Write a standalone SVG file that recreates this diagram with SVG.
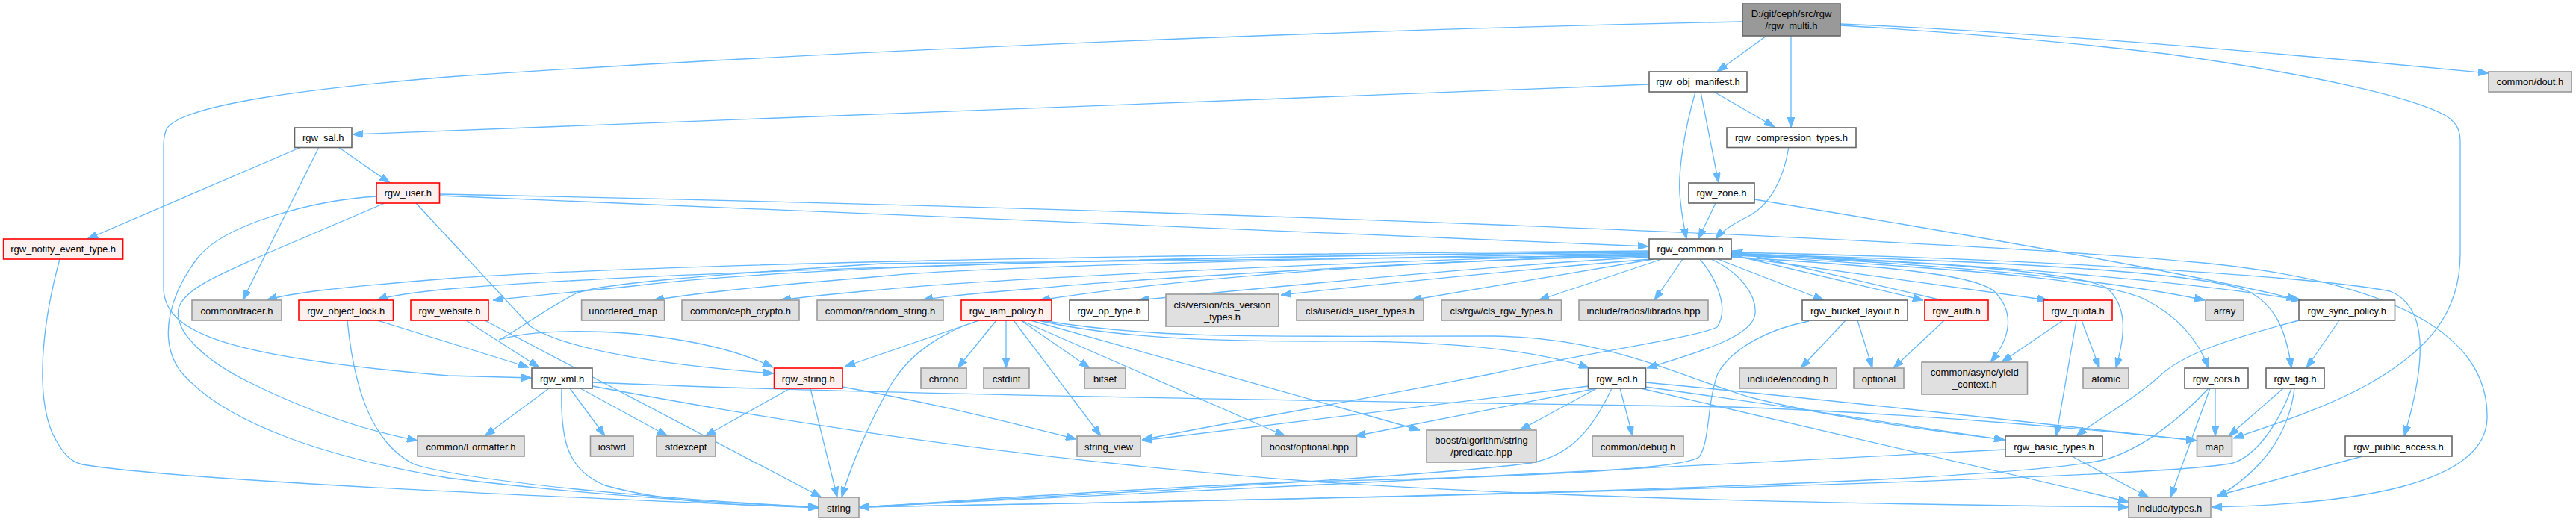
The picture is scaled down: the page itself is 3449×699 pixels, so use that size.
<svg xmlns="http://www.w3.org/2000/svg" width="3449" height="699" viewBox="0 0 3449 699">
<style>
.e{fill:none;stroke:#63b8ff;stroke-width:1.3;marker-end:url(#a)}
.root{fill:#999999;stroke:#666666;stroke-width:1.6}
.n{fill:#ffffff;stroke:#666666;stroke-width:1.6}
.r{fill:#fff0f0;stroke:#ff0000;stroke-width:1.6}
.g{fill:#e0e0e0;stroke:#999999;stroke-width:1.6}
text{font-family:"Liberation Sans",Arial,Helvetica,sans-serif;font-size:13px;fill:#000;text-anchor:middle}
</style>
<defs>
<marker id="a" viewBox="0 0 14 10" refX="14" refY="5" markerWidth="14" markerHeight="10" markerUnits="userSpaceOnUse" orient="auto">
<path d="M0,0 L14,5 L0,10 z" fill="#63b8ff" stroke="#63b8ff" stroke-width="1"/>
</marker>
</defs>
<rect x="0" y="0" width="3449" height="699" fill="#ffffff"/>
<g id="edges">
<path class="e" d="M2333,29 C1700,42 1000,75 600,103 C420,118 235,140 222,175 C219,185 219,190 219,200 L219,385 C219,445 300,478 600,503 L712,506"/>
<path class="e" d="M2365,48 L2299,96"/>
<path class="e" d="M2398,48 L2398,171"/>
<path class="e" d="M2464,32 C2700,42 3000,66 3332,98"/>
<path class="e" d="M2464,34 C2650,45 2800,60 2900,72 C3100,100 3230,130 3275,155 C3290,165 3294,175 3294,190 L3294,340 C3294,420 3250,470 3170,515 C3110,548 3040,570 2990,587"/>
<path class="e" d="M2208,113 L472,180"/>
<path class="e" d="M2295,123 L2376,170"/>
<path class="e" d="M2277,123 L2301,245"/>
<path class="e" d="M2270,123 C2255,175 2245,235 2250,270 C2252,290 2255,305 2258,320"/>
<path class="e" d="M2395,197 C2388,240 2370,275 2340,290 C2320,300 2305,310 2297,320"/>
<path class="e" d="M2297,272 L2274,320"/>
<path class="e" d="M2349,267 C2700,325 2950,370 3076,401"/>
<path class="e" d="M453,197 L522,245"/>
<path class="e" d="M403,197 L117,320"/>
<path class="e" d="M427,197 L325,402"/>
<path class="e" d="M589,262 L2207,330"/>
<path class="e" d="M589,260 C1600,280 2600,320 2950,352 C3250,382 3332,470 3330,560 C3328,650 3150,675 2961,679"/>
<path class="e" d="M504,263 C420,268 300,300 265,345 C230,390 210,450 240,495 C300,570 450,615 600,640 C800,665 1000,675 1096,679"/>
<path class="e" d="M515,272 L356,340 C300,365 250,385 240,410 C230,440 270,480 330,510 C400,545 480,575 559,590"/>
<path class="e" d="M557,272 L710,437 C760,470 900,490 1036,500"/>
<path class="e" d="M80,347 C60,420 45,520 70,580 C85,610 95,618 110,622 C250,645 800,668 1096,680"/>
<path class="e" d="M465,429 C472,500 490,590 555,622 C650,650 950,672 1096,679"/>
<path class="e" d="M505,429 L708,492"/>
<path class="e" d="M624,429 L722,492"/>
<path class="e" d="M649,429 L1100,666"/>
<path class="e" d="M735,520 L649,584"/>
<path class="e" d="M763,520 L810,584"/>
<path class="e" d="M777,520 L894,584"/>
<path class="e" d="M752,520 C750,590 760,630 810,650 C900,675 1000,677 1096,679"/>
<path class="e" d="M793,512 C1200,530 2000,540 2320,545 C2600,555 2850,580 2941,590"/>
<path class="e" d="M793,517 C1000,555 1300,610 1760,645 C2100,668 2500,675 2850,679"/>
<path class="e" d="M1085,520 L1121,666"/>
<path class="e" d="M1058,520 L944,584"/>
<path class="e" d="M1128,518 C1250,540 1350,565 1441,588"/>
<path class="e" d="M1311,429 L1131,491"/>
<path class="e" d="M1311,429 C1260,445 1215,475 1190,520 C1165,565 1140,620 1127,666"/>
<path class="e" d="M1334,429 L1282,493"/>
<path class="e" d="M1347,429 L1347,493"/>
<path class="e" d="M1367,429 L1459,493"/>
<path class="e" d="M1357,429 L1474,584"/>
<path class="e" d="M1367,429 L1721,584"/>
<path class="e" d="M1380,429 L1901,576"/>
<path class="e" d="M1390,429 C1480,450 1600,457 1760,457 C1950,455 2060,470 2128,493"/>
<path class="e" d="M1395,429 C1550,455 1700,450 2000,450 C2150,452 2240,500 2340,531 C2450,560 2600,578 2684,589"/>
<path class="e" d="M2127,517 L1529,590"/>
<path class="e" d="M2276,347 C2300,375 2315,415 2299,438 C2270,452 2150,468 2000,500 C1800,540 1620,570 1529,589"/>
<path class="e" d="M2138,520 L1814,584"/>
<path class="e" d="M2138,520 L2035,576"/>
<path class="e" d="M2169,520 L2186,584"/>
<path class="e" d="M2158,520 C2130,580 2100,610 2050,620 C1900,640 1400,665 1150,679"/>
<path class="e" d="M2203,518 C2400,545 2550,570 2684,589"/>
<path class="e" d="M2197,520 L2850,672"/>
<path class="e" d="M2203,512 C2500,540 2800,575 2941,590"/>
<path class="e" d="M2291,347 C2330,365 2352,395 2350,420 C2347,450 2280,470 2205,493"/>
<path class="e" d="M2471,429 L2411,493"/>
<path class="e" d="M2487,429 L2507,493"/>
<path class="e" d="M2422,430 C2370,440 2320,465 2300,500 C2285,540 2290,590 2275,612 C2250,630 2000,640 1740,645 C1500,655 1300,670 1150,679"/>
<path class="e" d="M2603,429 L2535,493"/>
<path class="e" d="M2762,429 L2680,485"/>
<path class="e" d="M2787,429 L2811,493"/>
<path class="e" d="M2780,429 L2753,584"/>
<path class="e" d="M3078,429 C2980,455 2920,475 2890,505 C2850,540 2810,560 2780,584"/>
<path class="e" d="M3132,429 L3088,493"/>
<path class="e" d="M2685,602 C2400,615 1600,660 1150,679"/>
<path class="e" d="M2774,611 L2877,666"/>
<path class="e" d="M2966,520 L2966,584"/>
<path class="e" d="M2959,520 L2906,666"/>
<path class="e" d="M2957,520 C2920,560 2870,600 2820,615 C2700,645 2000,665 1150,679"/>
<path class="e" d="M3057,520 L2984,584"/>
<path class="e" d="M3072,520 C3065,580 3030,630 2968,666"/>
<path class="e" d="M3068,520 C3050,570 3020,610 2990,620 C2900,640 2000,665 1150,679"/>
<path class="e" d="M3163,611 L2968,664"/>
<path class="e" d="M2208,336 C1600,340 900,352 600,373 C450,385 390,392 357,402"/>
<path class="e" d="M2208,337 C1600,343 900,362 600,387 C550,392 520,396 505,402"/>
<path class="e" d="M2208,338 C1700,342 1100,352 848,383 C750,393 700,397 660,402"/>
<path class="e" d="M2208,339 C1800,345 1300,357 1180,370 C1000,385 930,393 875,402"/>
<path class="e" d="M2208,340 C1800,350 1300,375 1180,388 C1120,393 1080,397 1045,402"/>
<path class="e" d="M2208,341 C1900,350 1500,375 1390,386 C1300,393 1260,397 1235,402"/>
<path class="e" d="M2208,342 C1600,346 1250,350 1180,353 C950,368 800,380 771,393 C720,420 685,448 668,455 C700,445 760,440 850,447 C950,458 1000,475 1035,492"/>
<path class="e" d="M2208,343 C1900,348 1600,370 1392,402"/>
<path class="e" d="M2208,344 C2000,355 1700,385 1524,402"/>
<path class="e" d="M2210,347 C2050,360 1850,380 1715,395"/>
<path class="e" d="M2214,347 L1889,402"/>
<path class="e" d="M2225,347 L2060,402"/>
<path class="e" d="M2253,347 L2215,402"/>
<path class="e" d="M2300,347 L2442,402"/>
<path class="e" d="M2318,341 L2575,402"/>
<path class="e" d="M2600,402 L2319,336"/>
<path class="e" d="M2318,344 C2500,355 2640,365 2670,390 C2700,420 2690,455 2665,485"/>
<path class="e" d="M2318,343 L2742,402"/>
<path class="e" d="M2318,342 C2600,350 2780,365 2820,385 C2850,410 2845,450 2833,493"/>
<path class="e" d="M2318,340 C2600,355 2800,370 2952,402"/>
<path class="e" d="M2318,339 C2700,355 2950,380 3081,402"/>
<path class="e" d="M2318,341 C2600,360 2800,370 2870,400 C2920,425 2945,460 2957,493"/>
<path class="e" d="M2318,340 C2700,350 2950,365 3010,390 C3050,410 3062,450 3068,493"/>
<path class="e" d="M2318,338 C2700,345 3100,370 3200,390 C3250,410 3250,480 3219,584"/>
</g>
<g id="n_rgw_multi"><rect class="root" x="2333" y="5" width="131" height="43"/><text x="2398.5" y="23">D:/git/ceph/src/rgw</text><text x="2398.5" y="39">/rgw_multi.h</text></g>
<g id="n_rgw_obj_manifest"><rect class="n" x="2208" y="96" width="131" height="27"/><text x="2273.5" y="114">rgw_obj_manifest.h</text></g>
<g id="n_common_dout"><rect class="g" x="3332" y="96" width="111" height="27"/><text x="3387.5" y="114">common/dout.h</text></g>
<g id="n_rgw_sal"><rect class="n" x="394.5" y="171" width="76.5" height="26.5"/><text x="432.75" y="188.5">rgw_sal.h</text></g>
<g id="n_rgw_compression_types"><rect class="n" x="2312" y="171" width="173" height="26.5"/><text x="2398.5" y="188.5">rgw_compression_types.h</text></g>
<g id="n_rgw_user"><rect class="r" x="504" y="245" width="84.5" height="27"/><text x="546.25" y="263">rgw_user.h</text></g>
<g id="n_rgw_zone"><rect class="n" x="2261" y="245" width="88" height="27"/><text x="2305" y="263">rgw_zone.h</text></g>
<g id="n_rgw_notify_event_type"><rect class="r" x="4.6" y="320" width="160" height="27"/><text x="84.6" y="338">rgw_notify_event_type.h</text></g>
<g id="n_rgw_common"><rect class="n" x="2208" y="320" width="110" height="27"/><text x="2263" y="338">rgw_common.h</text></g>
<g id="n_common_tracer"><rect class="g" x="257" y="402" width="120" height="27"/><text x="317" y="420.5">common/tracer.h</text></g>
<g id="n_rgw_object_lock"><rect class="r" x="400" y="402" width="126.5" height="27"/><text x="463.25" y="420.5">rgw_object_lock.h</text></g>
<g id="n_rgw_website"><rect class="r" x="550" y="402" width="104" height="27"/><text x="602" y="420.5">rgw_website.h</text></g>
<g id="n_unordered_map"><rect class="g" x="778.6" y="402" width="111" height="27"/><text x="834.1" y="420.5">unordered_map</text></g>
<g id="n_common_ceph_crypto"><rect class="g" x="913" y="402" width="157" height="27"/><text x="991.5" y="420.5">common/ceph_crypto.h</text></g>
<g id="n_common_random_string"><rect class="g" x="1094" y="402" width="169" height="27"/><text x="1178.5" y="420.5">common/random_string.h</text></g>
<g id="n_rgw_iam_policy"><rect class="r" x="1287" y="402" width="121" height="27"/><text x="1347.5" y="420.5">rgw_iam_policy.h</text></g>
<g id="n_rgw_op_type"><rect class="n" x="1432" y="402" width="106" height="27"/><text x="1485" y="420.5">rgw_op_type.h</text></g>
<g id="n_cls_version_types"><rect class="g" x="1561" y="394" width="151" height="43"/><text x="1636.5" y="413">cls/version/cls_version</text><text x="1636.5" y="429">_types.h</text></g>
<g id="n_cls_user_types"><rect class="g" x="1736" y="402" width="170" height="27"/><text x="1821" y="420.5">cls/user/cls_user_types.h</text></g>
<g id="n_cls_rgw_types"><rect class="g" x="1930" y="402" width="160.5" height="27"/><text x="2010.25" y="420.5">cls/rgw/cls_rgw_types.h</text></g>
<g id="n_librados"><rect class="g" x="2114" y="402" width="173" height="27"/><text x="2200.5" y="420.5">include/rados/librados.hpp</text></g>
<g id="n_rgw_bucket_layout"><rect class="n" x="2413" y="402" width="141" height="27"/><text x="2483.5" y="420.5">rgw_bucket_layout.h</text></g>
<g id="n_rgw_auth"><rect class="r" x="2577" y="402" width="85" height="27"/><text x="2619.5" y="420.5">rgw_auth.h</text></g>
<g id="n_rgw_quota"><rect class="r" x="2736" y="402" width="92" height="27"/><text x="2782" y="420.5">rgw_quota.h</text></g>
<g id="n_array"><rect class="g" x="2953" y="402" width="51" height="27"/><text x="2978.5" y="420.5">array</text></g>
<g id="n_rgw_sync_policy"><rect class="n" x="3078" y="402" width="128.5" height="27"/><text x="3142.25" y="420.5">rgw_sync_policy.h</text></g>
<g id="n_rgw_xml"><rect class="n" x="712" y="493" width="81" height="27"/><text x="752.5" y="511.5">rgw_xml.h</text></g>
<g id="n_rgw_string"><rect class="r" x="1036.5" y="493" width="91.5" height="27"/><text x="1082.25" y="511.5">rgw_string.h</text></g>
<g id="n_chrono"><rect class="g" x="1233" y="493" width="61" height="27"/><text x="1263.5" y="511.5">chrono</text></g>
<g id="n_cstdint"><rect class="g" x="1317" y="493" width="61" height="27"/><text x="1347.5" y="511.5">cstdint</text></g>
<g id="n_bitset"><rect class="g" x="1452" y="493" width="55" height="27"/><text x="1479.5" y="511.5">bitset</text></g>
<g id="n_rgw_acl"><rect class="n" x="2126.5" y="493" width="77" height="27"/><text x="2165" y="511.5">rgw_acl.h</text></g>
<g id="n_include_encoding"><rect class="g" x="2329" y="493" width="130" height="27"/><text x="2394" y="511.5">include/encoding.h</text></g>
<g id="n_optional"><rect class="g" x="2482" y="493" width="67" height="27"/><text x="2515.5" y="511.5">optional</text></g>
<g id="n_yield_context"><rect class="g" x="2573" y="485" width="141.5" height="43"/><text x="2643.75" y="503">common/async/yield</text><text x="2643.75" y="519">_context.h</text></g>
<g id="n_atomic"><rect class="g" x="2789" y="493" width="61" height="27"/><text x="2819.5" y="511.5">atomic</text></g>
<g id="n_rgw_cors"><rect class="n" x="2925" y="493" width="85" height="27"/><text x="2967.5" y="511.5">rgw_cors.h</text></g>
<g id="n_rgw_tag"><rect class="n" x="3034" y="493" width="78" height="27"/><text x="3073" y="511.5">rgw_tag.h</text></g>
<g id="n_common_formatter"><rect class="g" x="559" y="584" width="143" height="27"/><text x="630.5" y="602.5">common/Formatter.h</text></g>
<g id="n_iosfwd"><rect class="g" x="790.5" y="584" width="57.5" height="27"/><text x="819.25" y="602.5">iosfwd</text></g>
<g id="n_stdexcept"><rect class="g" x="879" y="584" width="79" height="27"/><text x="918.5" y="602.5">stdexcept</text></g>
<g id="n_string_view"><rect class="g" x="1442" y="584" width="85" height="27"/><text x="1484.5" y="602.5">string_view</text></g>
<g id="n_boost_optional"><rect class="g" x="1689" y="584" width="127.5" height="27"/><text x="1752.75" y="602.5">boost/optional.hpp</text></g>
<g id="n_boost_predicate"><rect class="g" x="1910" y="576" width="147" height="43"/><text x="1983.5" y="594">boost/algorithm/string</text><text x="1983.5" y="610">/predicate.hpp</text></g>
<g id="n_common_debug"><rect class="g" x="2132" y="584" width="122" height="27"/><text x="2193" y="602.5">common/debug.h</text></g>
<g id="n_rgw_basic_types"><rect class="n" x="2685" y="584" width="130" height="27"/><text x="2750" y="602.5">rgw_basic_types.h</text></g>
<g id="n_map"><rect class="g" x="2941.5" y="584" width="47" height="27"/><text x="2965" y="602.5">map</text></g>
<g id="n_rgw_public_access"><rect class="n" x="3140" y="584" width="143" height="27"/><text x="3211.5" y="602.5">rgw_public_access.h</text></g>
<g id="n_string"><rect class="g" x="1096" y="666" width="54" height="27"/><text x="1123" y="684.5">string</text></g>
<g id="n_include_types"><rect class="g" x="2850" y="666" width="110" height="27"/><text x="2905" y="684.5">include/types.h</text></g>
</svg>
